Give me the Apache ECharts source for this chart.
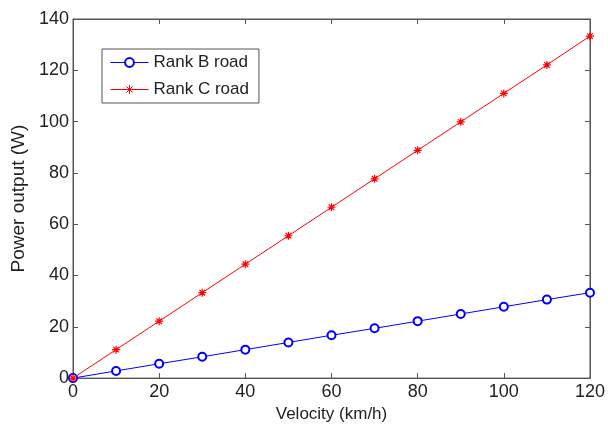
<!DOCTYPE html>
<html>
<head>
<meta charset="utf-8">
<script src="https://cdn.jsdelivr.net/npm/echarts@6/dist/echarts.min.js"></script>
<style>
  html, body { margin: 0; padding: 0; background: #fff; }
  #chart { width: 608px; height: 428px; }
</style>
</head>
<body>
<div id="chart"></div>
<script>
const velocity = [0, 10, 20, 30, 40, 50, 60, 70, 80, 90, 100, 110, 120];
const rankB = [0, 2.8, 5.6, 8.3, 11.1, 13.9, 16.7, 19.4, 22.2, 25.0, 27.8, 30.6, 33.3];
const rankC = [0, 11.1, 22.2, 33.3, 44.4, 55.5, 66.6, 77.7, 88.8, 99.9, 111.0, 122.1, 133.3];
const seriesNames = ['Rank B road', 'Rank C road'];

const font = 'Liberation Sans, Arial, sans-serif';
const axisColor = '#555';
const textColor = '#222';

// asterisk marker, like matlab's '*'
const star = 'path://M0,-5L0,5M-5,0L5,0M-3.5,-3.5L3.5,3.5M-3.5,3.5L3.5,-3.5';

const chart = echarts.init(document.getElementById('chart'));

// top and right axes only draw ticks, the box comes from the grid border
const boxAxis = {
  axisLine: { show: true, onZero: false, lineStyle: { color: axisColor, width: 1 } },
  axisTick: { show: true, inside: true, length: 5, lineStyle: { color: axisColor } },
  axisLabel: { show: false },
  splitLine: { show: false }
};

chart.setOption({
  animation: false,
  grid: {
    left: 73, right: 15, top: 19, bottom: 46,
    show: true, borderColor: axisColor, borderWidth: 1, backgroundColor: 'transparent'
  },
  legend: {
    data: seriesNames,
    orient: 'vertical',
    left: 102,
    top: 49,
    padding: [5, 10, 5, 8],
    borderColor: axisColor,
    borderWidth: 1,
    backgroundColor: '#fff',
    itemWidth: 38,
    itemHeight: 11,
    itemGap: 10,
    lineStyle: { width: 1 },
    itemStyle: { borderWidth: 1 },
    textStyle: { fontFamily: font, fontSize: 17, color: textColor }
  },
  xAxis: [
    {
      type: 'value',
      min: 0, max: 120, interval: 20,
      name: 'Velocity (km/h)',
      nameLocation: 'middle',
      nameGap: 27,
      nameTextStyle: { fontFamily: font, fontSize: 17, color: textColor },
      axisLine: { show: true, onZero: false, lineStyle: { color: axisColor, width: 1 } },
      axisTick: { show: true, inside: true, length: 5, lineStyle: { color: axisColor } },
      axisLabel: { fontFamily: font, fontSize: 18, color: textColor, margin: 5 },
      splitLine: { show: false }
    },
    Object.assign({ type: 'value', position: 'top', min: 0, max: 120, interval: 20 }, boxAxis)
  ],
  yAxis: [
    {
      type: 'value',
      min: 0, max: 140, interval: 20,
      name: 'Power output (W)',
      nameLocation: 'middle',
      nameGap: 41,
      nameTextStyle: { fontFamily: font, fontSize: 19, color: textColor },
      axisLine: { show: true, onZero: false, lineStyle: { color: axisColor, width: 1 } },
      axisTick: { show: true, inside: true, length: 5, lineStyle: { color: axisColor } },
      axisLabel: { fontFamily: font, fontSize: 18, color: textColor, margin: 4 },
      splitLine: { show: false }
    },
    Object.assign({ type: 'value', position: 'right', min: 0, max: 140, interval: 20 }, boxAxis)
  ],
  series: [
    {
      name: seriesNames[0],
      type: 'line',
      data: velocity.map((v, i) => [v, rankB[i]]),
      symbol: 'emptyCircle',
      symbolSize: 8,
      showAllSymbol: true,
      lineStyle: { color: '#0000ff', width: 1 },
      itemStyle: { color: '#0000ff', borderColor: '#0000ff', borderWidth: 1 }
    },
    {
      name: seriesNames[1],
      type: 'line',
      data: velocity.map((v, i) => [v, rankC[i]]),
      symbol: star,
      symbolSize: 8,
      showAllSymbol: true,
      lineStyle: { color: '#ff0000', width: 1 },
      itemStyle: { color: '#ff0000', borderColor: '#ff0000', borderWidth: 1.2 }
    },
    {
      // empty series so the top/right tick axes get drawn
      type: 'line',
      xAxisIndex: 1,
      yAxisIndex: 1,
      data: [],
      silent: true
    }
  ]
});
</script>
</body>
</html>
